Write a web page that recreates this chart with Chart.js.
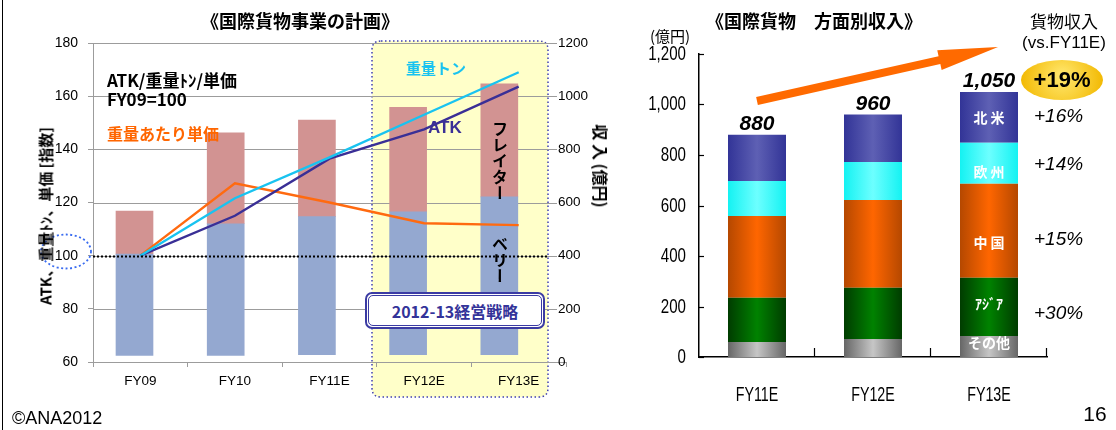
<!DOCTYPE html>
<html lang="ja">
<head>
<meta charset="utf-8">
<script src="https://cdn.jsdelivr.net/npm/chart.js@4.4.1/dist/chart.umd.min.js"></script>
<style>
  html, body { margin: 0; padding: 0; background: #fff; }
  #page { position: relative; width: 1116px; height: 430px; overflow: hidden;
          font-family: "Noto Sans CJK JP", "Liberation Sans", sans-serif; color: #000; }
  canvas { position: absolute; top: 0; }
  #cargoPlan { left: 0; }
  #regionRevenue { left: 600px; }
  .t { position: absolute; white-space: nowrap; line-height: 1; }
  .c { transform: translate(-50%, -50%); }
  .b { font-weight: 700; }
  .latin { font-family: "Liberation Sans", Arial, sans-serif; }
  .vert { writing-mode: vertical-rl; transform: translate(-50%, -50%); font-weight: 700; }
  #frame { position: absolute; left: 2px; top: 0; width: 0; height: 430px; border-left: 1.5px solid #000; }
  #strategy { position: absolute; left: 365px; top: 292px; width: 174px; height: 31px;
              border: 2px solid #3b3ba3; border-radius: 7px; background: #fff; padding: 1px; }
  #strategy div { width: 100%; height: 100%; box-sizing: border-box; border: 1.5px solid #3b3ba3;
                  border-radius: 5px; display: flex; align-items: center; justify-content: center;
                  font-weight: 700; font-size: 16px; color: #333399; line-height: 1; }
</style>
</head>
<body>
<div id="page">
  <canvas id="cargoPlan" width="600" height="430"></canvas>
  <canvas id="regionRevenue" width="516" height="430"></canvas>
  <div id="frame"></div>

  <!-- left panel texts -->
  <div class="t c b" style="left:300px;top:20px;font-size:18px">《国際貨物事業の計画》</div>
  <div class="t b" style="left:45px;top:216px;font-size:15px;transform:translate(-50%,-50%) rotate(-90deg)">ATK、重量ﾄﾝ、単価 [指数]</div>
  <div class="t b" style="left:601px;top:166px;font-size:16px;transform:translate(-50%,-50%) rotate(90deg)">収 入 (億円)</div>
  <div class="t b" style="left:107px;top:71px;font-size:17px">ATK/重量ﾄﾝ/単価</div>
  <div class="t b" style="left:107px;top:90px;font-size:17px">FY09=100</div>
  <div class="t b" style="left:107px;top:125px;font-size:16px;color:#ff6600">重量あたり単価</div>
  <div class="t b" style="left:406px;top:60px;font-size:15px;color:#19c3f0">重量トン</div>
  <div class="t b latin" style="left:428px;top:119px;font-size:17px;color:#3a2f96">ATK</div>
  <div class="t vert" style="left:500px;top:161px;font-size:16px">フレイター</div>
  <div class="t vert" style="left:500px;top:260px;font-size:16px">ベリー</div>
  <div id="strategy"><div>2012-13経営戦略</div></div>
  <div class="t latin" style="left:12px;top:409px;font-size:18px">©ANA2012</div>

  <!-- right panel texts -->
  <div class="t c b" style="left:814px;top:20px;font-size:18px">《国際貨物　方面別収入》</div>
  <div class="t c" style="left:670px;top:35px;font-size:15px">(億円)</div>
  <div class="t c" style="left:1064px;top:20px;font-size:17px">貨物収入</div>
  <div class="t c latin" style="left:1064px;top:42px;font-size:17px">(vs.FY11E)</div>
  <div class="t c latin" style="left:1095px;top:413px;font-size:21px">16</div>
</div>

<script>
Chart.defaults.font.family = '"Liberation Sans", Arial, sans-serif';
Chart.defaults.color = '#000';

// ---- International cargo plan (index lines + revenue bars) ----
const years = ['FY09', 'FY10', 'FY11E', 'FY12E', 'FY13E'];
const barBase = [25, 25, 28, 28, 28];            // 億円, bottom of the stacked bars
const bellyTop = [406, 520, 547, 565, 621];       // 億円, top of belly segment
const freighterTop = [568, 862, 910, 958, 1046];  // 億円, top of freighter segment
const tonIndex = [100, 121.6, 137, 153, 169];     // 重量トン, FY09 = 100
const atkIndex = [100, 115, 136.5, 147.5, 163.6]; // ATK, FY09 = 100
const yieldIndex = [100, 127.2, 120, 112.2, 111.5]; // 重量あたり単価, FY09 = 100
const baseIndex = 100;

// ---- Revenue by region ----
const fyTerms = ['FY11E', 'FY12E', 'FY13E'];
const regionNames = ['その他', 'ｱｼﾞｱ', '中 国', '欧 州', '北 米'];
const otherRev = [59, 71, 83];
const asiaRev = [176, 203, 231];
const chinaRev = [323, 348, 372];
const europeRev = [139, 150, 163];
const northAmericaRev = [183, 188, 201];
const regionGrowth = ['', '+30%', '+15%', '+14%', '+16%'];

function roundRectPath(c, x, y, w, h, r) {
  c.beginPath();
  c.moveTo(x + r, y);
  c.lineTo(x + w - r, y);
  c.quadraticCurveTo(x + w, y, x + w, y + r);
  c.lineTo(x + w, y + h - r);
  c.quadraticCurveTo(x + w, y + h, x + w - r, y + h);
  c.lineTo(x + r, y + h);
  c.quadraticCurveTo(x, y + h, x, y + h - r);
  c.lineTo(x, y + r);
  c.quadraticCurveTo(x, y, x + r, y);
  c.closePath();
}

const planDecor = {
  id: 'planDecor',
  beforeDraw(chart) {
    const c = chart.ctx;
    c.save();
    roundRectPath(c, 372, 41, 176, 356, 9);
    c.fillStyle = '#ffffc9';
    c.fill();
    c.setLineDash([1.5, 2.5]);
    c.lineWidth = 1.5;
    c.strokeStyle = '#3f3fb0';
    c.stroke();
    c.restore();
  },
  beforeDatasetsDraw(chart) {
    // horizontal grid, stopping short of the revenue labels
    const {ctx: c, chartArea: a, scales: {y}} = chart;
    c.save();
    c.strokeStyle = '#9c9c9c';
    c.lineWidth = 1;
    y.ticks.forEach(t => {
      if (t.value === y.min) return;
      const py = Math.round(y.getPixelForValue(t.value)) + 0.5;
      c.beginPath(); c.moveTo(a.left, py); c.lineTo(557, py); c.stroke();
    });
    c.restore();
  },
  afterDatasetsDraw(chart) {
    const {ctx: c, chartArea: a, scales: {y, y2}} = chart;
    const py = Math.round(y.getPixelForValue(baseIndex)) + 0.5;
    c.save();
    c.setLineDash([2, 2]);
    c.lineWidth = 2;
    c.strokeStyle = '#000';
    c.beginPath(); c.moveTo(a.left, py); c.lineTo(548, py); c.stroke();
    // dotted ring round the base-index label
    c.setLineDash([2, 2.5]);
    c.lineWidth = 1.8;
    c.strokeStyle = '#3a6cf0';
    c.beginPath(); c.ellipse(66, py - 5, 25, 17, 0, 0, Math.PI * 2); c.stroke();
    // revenue axis labels, set just inside the right edge of the plot
    c.setLineDash([]);
    c.fillStyle = '#000';
    c.font = '13.5px "Liberation Sans", Arial, sans-serif';
    c.textAlign = 'left';
    c.textBaseline = 'middle';
    y2.ticks.forEach(t => c.fillText(String(t.value), 558, y2.getPixelForValue(t.value)));
    c.restore();
  }
};

new Chart(document.getElementById('cargoPlan'), {
  type: 'bar',
  data: {
    labels: years,
    datasets: [
      { type: 'line', label: '重量トン', data: tonIndex, xAxisID: 'x', yAxisID: 'y',
        borderColor: '#19c3f0', borderWidth: 2.4, pointRadius: 0, tension: 0, order: 0 },
      { type: 'line', label: 'ATK', data: atkIndex, xAxisID: 'x', yAxisID: 'y',
        borderColor: '#3a2f96', borderWidth: 2.4, pointRadius: 0, tension: 0, order: 0 },
      { type: 'line', label: '重量あたり単価', data: yieldIndex, xAxisID: 'x', yAxisID: 'y',
        borderColor: '#ff6a10', borderWidth: 2.4, pointRadius: 0, tension: 0, order: 0 },
      { type: 'bar', label: 'ベリー', xAxisID: 'xb', yAxisID: 'y2', order: 1,
        data: years.map((_, i) => ({ x: i, y: [barBase[i], bellyTop[i]] })),
        backgroundColor: '#94a8d0', barThickness: 37, grouped: false },
      { type: 'bar', label: 'フレイター', xAxisID: 'xb', yAxisID: 'y2', order: 1,
        data: years.map((_, i) => ({ x: i, y: [bellyTop[i], freighterTop[i]] })),
        backgroundColor: '#d29392', barThickness: 37, grouped: false }
    ]
  },
  options: {
    responsive: false,
    animation: false,
    devicePixelRatio: 1,
    layout: { padding: { top: 43, left: 0, right: 0, bottom: 0 } },
    plugins: { legend: { display: false }, tooltip: { enabled: false } },
    scales: {
      x: {
        type: 'category', position: 'bottom', offset: true,
        grid: { drawOnChartArea: false, drawTicks: true, tickLength: 5, color: '#9c9c9c', offset: true },
        border: { color: '#9c9c9c' },
        ticks: { font: { size: 13.5 }, padding: 6, color: '#000' },
        afterFit: s => { s.height = 68; }
      },
      xb: { type: 'linear', display: false, offset: false, min: -0.455, max: 4.731 },
      y: {
        type: 'linear', position: 'left', min: 60, max: 180,
        ticks: { stepSize: 20, font: { size: 14 }, padding: 10, color: '#000' },
        grid: { drawOnChartArea: false, drawTicks: true, tickLength: 5, color: '#9c9c9c' },
        border: { color: '#9c9c9c' },
        afterFit: s => { s.width = 93; }
      },
      y2: {
        type: 'linear', position: 'right', min: 0, max: 1200,
        ticks: { stepSize: 200, display: false },
        grid: { drawOnChartArea: false, drawTicks: false },
        border: { display: false },
        afterFit: s => { s.width = 34; }
      }
    }
  },
  plugins: [planDecor]
});

// ---- right panel ----
const regionSeries = [otherRev, asiaRev, chinaRev, europeRev, northAmericaRev];
const regionShades = [
  ['#666666', '#c6c6c6'],
  ['#003c00', '#008200'],
  ['#b54800', '#ff6600'],
  ['#14f2f2', '#6dffff'],
  ['#323497', '#5e60b4']
];
// vertical nudges (px) for the in-bar names and the growth notes
const nameShift = [-4, -3, 12, 8, 0];
const growthShift = [0, 7, 9, 2, -1];
const barFrac = 0.5;

function shadedBar(edge, mid) {
  return ctx => {
    const chart = ctx.chart;
    const xs = chart.scales && chart.scales.x;
    if (!chart.chartArea || !xs || ctx.dataIndex === undefined) return mid;
    const cx = xs.getPixelForValue(ctx.dataIndex);
    const half = xs.width / fyTerms.length * barFrac / 2;
    const g = chart.ctx.createLinearGradient(cx - half, 0, cx + half, 0);
    g.addColorStop(0, edge);
    g.addColorStop(0.5, mid);
    g.addColorStop(1, edge);
    return g;
  };
}

// narrow lettering for the axis labels of this panel
function narrowText(c, text, x, y, align, size, squeeze) {
  c.save();
  c.translate(x, y);
  c.scale(squeeze, 1);
  c.font = size + 'px "Liberation Sans", Arial, sans-serif';
  c.textAlign = align;
  c.textBaseline = 'middle';
  c.fillStyle = '#000';
  c.fillText(text, 0, 0);
  c.restore();
}

const regionDecor = {
  id: 'regionDecor',
  afterDraw(chart) {
    const {ctx: c, chartArea: a, scales: {x, y}} = chart;
    c.save();
    // inward tick marks
    c.strokeStyle = '#000';
    c.lineWidth = 1.2;
    y.ticks.forEach(t => {
      const py = Math.round(y.getPixelForValue(t.value)) + 0.5;
      c.beginPath(); c.moveTo(a.left, py); c.lineTo(a.left + 5, py); c.stroke();
      narrowText(c, t.value.toLocaleString('en-US'), a.left - 13, py, 'right', 21, 0.72);
    });
    const step = (a.right - a.left) / fyTerms.length;
    for (let i = 1; i <= fyTerms.length; i++) {
      const px = Math.round(a.left + step * i) - 0.5;
      c.beginPath(); c.moveTo(px, a.bottom); c.lineTo(px, a.bottom - 9); c.stroke();
    }
    fyTerms.forEach((label, i) => narrowText(c, label, x.getPixelForValue(i), a.bottom + 38, 'center', 21, 0.68));

    // totals above the bars
    const totals = fyTerms.map((_, i) => regionSeries.reduce((s, arr) => s + arr[i], 0));
    c.fillStyle = '#000';
    c.textAlign = 'center';
    c.textBaseline = 'alphabetic';
    c.font = 'italic bold 21px "Liberation Sans", Arial, sans-serif';
    totals.forEach((tot, i) => {
      c.fillText(tot.toLocaleString('en-US'), x.getPixelForValue(i), y.getPixelForValue(tot) - 5);
    });

    // region names inside the last bar, growth to its right
    const last = fyTerms.length - 1;
    const cx = x.getPixelForValue(last);
    let acc = 0;
    regionSeries.forEach((arr, k) => {
      const mid = y.getPixelForValue(acc + arr[last] / 2);
      acc += arr[last];
      c.textAlign = 'center';
      c.textBaseline = 'middle';
      c.fillStyle = '#fff';
      c.font = 'bold 14px "Noto Sans CJK JP", sans-serif';
      c.fillText(regionNames[k], cx, mid + nameShift[k]);
      if (regionGrowth[k]) {
        c.textAlign = 'left';
        c.fillStyle = '#000';
        c.font = 'italic 19px "Liberation Sans", Arial, sans-serif';
        c.fillText(regionGrowth[k], 434, mid + growthShift[k]);
      }
    });

    // overall growth badge
    const growth = Math.round((totals[last] / totals[0] - 1) * 100);
    const g = c.createRadialGradient(462, 76, 4, 462, 80, 42);
    g.addColorStop(0, '#ffe466');
    g.addColorStop(1, '#f2b800');
    c.fillStyle = g;
    c.beginPath(); c.ellipse(462, 80, 41, 20, 0, 0, Math.PI * 2); c.fill();
    c.fillStyle = '#000';
    c.textAlign = 'center';
    c.textBaseline = 'middle';
    c.font = 'bold 22px "Liberation Sans", Arial, sans-serif';
    c.fillText('+' + growth + '%', 462, 81);

    // rising arrow over the bars
    const tail = [157, 101], tip = [398, 47];
    const dx = tip[0] - tail[0], dy = tip[1] - tail[1];
    const len = Math.hypot(dx, dy);
    const ux = dx / len, uy = dy / len, nx = -uy, ny = ux;
    const shaft = 4, head = 10, headLen = 60;
    const bx = tip[0] - ux * headLen, by = tip[1] - uy * headLen;
    c.fillStyle = '#ff6a00';
    c.beginPath();
    c.moveTo(tail[0] + nx * shaft, tail[1] + ny * shaft);
    c.lineTo(bx + nx * shaft, by + ny * shaft);
    c.lineTo(bx + nx * head, by + ny * head);
    c.lineTo(tip[0], tip[1]);
    c.lineTo(bx - nx * head, by - ny * head);
    c.lineTo(bx - nx * shaft, by - ny * shaft);
    c.lineTo(tail[0] - nx * shaft, tail[1] - ny * shaft);
    c.closePath();
    c.fill();
    c.restore();
  }
};

new Chart(document.getElementById('regionRevenue'), {
  type: 'bar',
  data: {
    labels: fyTerms,
    datasets: regionSeries.map((arr, k) => ({
      label: regionNames[k],
      data: arr,
      backgroundColor: shadedBar(regionShades[k][0], regionShades[k][1]),
      borderWidth: 0,
      barPercentage: barFrac,
      categoryPercentage: 1
    }))
  },
  options: {
    responsive: false,
    animation: false,
    devicePixelRatio: 1,
    layout: { padding: { top: 54, right: 69, left: 0, bottom: 0 } },
    plugins: { legend: { display: false }, tooltip: { enabled: false } },
    scales: {
      x: {
        stacked: true,
        grid: { display: false, drawTicks: false },
        border: { color: '#000', width: 1.5 },
        ticks: { display: false },
        afterFit: s => { s.height = 73; }
      },
      y: {
        stacked: true, min: 0, max: 1200,
        grid: { display: false, drawTicks: false },
        border: { color: '#000', width: 1.5 },
        ticks: { stepSize: 200, display: false },
        afterFit: s => { s.width = 99; }
      }
    }
  },
  plugins: [regionDecor]
});
</script>
</body>
</html>
